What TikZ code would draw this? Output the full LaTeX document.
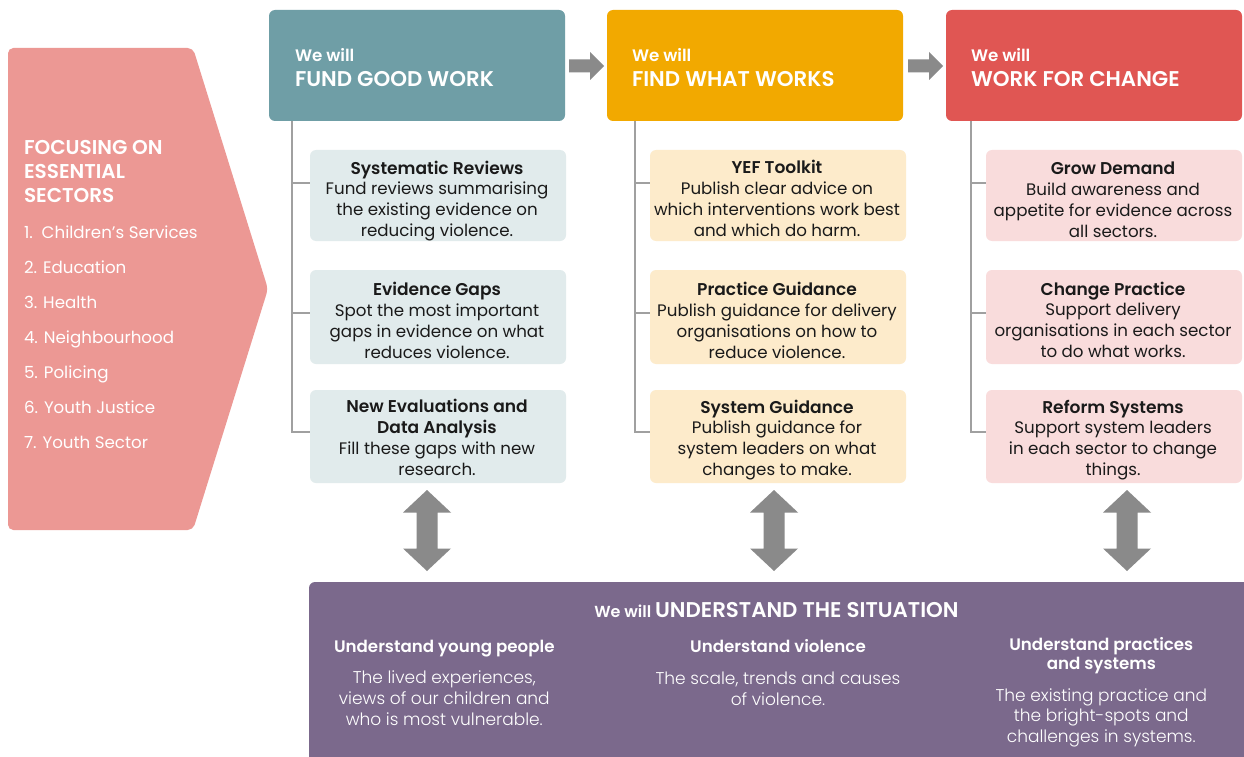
\documentclass[tikz,border=0pt]{standalone}
\usepackage{fontspec}
\setmainfont{Poppins}
\newfontfamily\popsb{Poppins SemiBold}
\newfontfamily\poplt{Poppins Light}
\newcommand\bxtitle{\popsb\fontsize{12.8}{15.6}\selectfont}
\definecolor{sectpink}{HTML}{EC9894}
\definecolor{hteal}{HTML}{6F9EA6}
\definecolor{horange}{HTML}{F2A900}
\definecolor{hred}{HTML}{E05653}
\definecolor{lteal}{HTML}{E1EBEC}
\definecolor{lorange}{HTML}{FDEBCB}
\definecolor{lred}{HTML}{F9DCDC}
\definecolor{purp}{HTML}{7B698C}
\definecolor{agray}{HTML}{8A8A8A}
\definecolor{tgray}{HTML}{A0A0A0}
\definecolor{txtdark}{HTML}{1A1A1A}
\begin{document}
\begin{tikzpicture}[x=0.75pt,y=-0.75pt,
  every node/.style={inner sep=0pt, outer sep=0pt},
  hdrbox/.style={rounded corners=4.5pt, minimum width=222pt, minimum height=83.25pt},
  subbox/.style={rounded corners=4.5pt, minimum width=192pt},
  tree/.style={draw=tgray, line width=1.1pt},
  hwe/.style={anchor=base west, text=white, font=\popsb\fontsize{12.5}{15}\selectfont},
  hti/.style={anchor=base west, text=white, font=\popsb\fontsize{16}{20}\selectfont},
  btxt/.style={anchor=base, align=center, text=txtdark, font=\fontsize{12.5}{15.6}\selectfont},
  utitle/.style={anchor=base, align=center, text=white, font=\popsb\fontsize{12.5}{12.2}\selectfont},
  ubody/.style={anchor=base, align=center, text=white, font=\poplt\fontsize{12.75}{15.4}\selectfont},
  harrow/.pic={\fill[agray] (0,-6.5) -- (21,-6.5) -- (21,-14) -- (35,0) -- (21,14) -- (21,6.5) -- (0,6.5) -- cycle;},
  varrow/.pic={\fill[agray] (0,-40.5) -- (24,-18) -- (10.5,-18) -- (10.5,18) -- (24,18) -- (0,40.5) -- (-24,18) -- (-10.5,18) -- (-10.5,-18) -- (-24,-18) -- cycle;}
]
\useasboundingbox (0,0) rectangle (1244,756);
\fill[white] (0,0) rectangle (1244,756);

% left panel
\fill[sectpink, rounded corners=4pt] (8,48) -- (193,48) -- (268,289) -- (193,530) -- (8,530) -- cycle;
\node[anchor=base west, align=left, text=white, font=\popsb\fontsize{15}{18}\selectfont] (sechead) at (24,202) {FOCUSING ON\\ESSENTIAL\\SECTORS};
\node[anchor=base west, align=left, text=white, font=\fontsize{12.5}{26.25}\selectfont] (seclist) at (24,448)
  {1.\ \ Children’s Services\\2. Education\\3. Health\\4. Neighbourhood\\5. Policing\\6. Youth Justice\\7. Youth Sector};

% headers
\node[hdrbox, fill=hteal] (h1) at (417,65.5) {};
\node[hdrbox, fill=horange] (h2) at (755,65.5) {};
\node[hdrbox, fill=hred] (h3) at (1094,65.5) {};
\node[hwe] (h1a) at (295,62) {We will};
\node[hti] (h1b) at (295,87) {FUND GOOD WORK};
\node[hwe] (h2a) at (632,62) {We will};
\node[hti] (h2b) at (632,87) {FIND WHAT WORKS};
\node[hwe] (h3a) at (971,62) {We will};
\node[hti] (h3b) at (971,87) {WORK FOR CHANGE};

\pic at (569,66) {harrow};
\pic at (908,66) {harrow};

% sub boxes
\foreach \c/\x/\col in {1/438/lteal, 2/778/lorange, 3/1114/lred}{
  \node[subbox, fill=\col, minimum height=68.25pt] (b\c1) at (\x,195.5) {};
  \node[subbox, fill=\col, minimum height=70.5pt] (b\c2) at (\x,317) {};
  \node[subbox, fill=\col, minimum height=69.75pt] (b\c3) at (\x,436.5) {};
}

% tree lines
\coordinate (t1) at (292,121);
\coordinate (t2) at (635,121);
\coordinate (t3) at (971,121);
\draw[tree] (t1) |- (b13.west |- 0,432);
\draw[tree] (t1 |- 0,183) -- (b11.west |- 0,183);
\draw[tree] (t1 |- 0,313) -- (b12.west |- 0,313);
\draw[tree] (t2) |- (b23.west |- 0,432);
\draw[tree] (t2 |- 0,183) -- (b21.west |- 0,183);
\draw[tree] (t2 |- 0,313) -- (b22.west |- 0,313);
\draw[tree] (t3) |- (b33.west |- 0,432);
\draw[tree] (t3 |- 0,183) -- (b31.west |- 0,183);
\draw[tree] (t3 |- 0,313) -- (b32.west |- 0,313);

% box texts (anchor = baseline of last line)
\node[btxt] (x11) at (437,236.5) {{\bxtitle Systematic Reviews}\\Fund reviews summarising\\the existing evidence on\\reducing violence.};
\node[btxt] (x12) at (437,358) {{\bxtitle Evidence Gaps}\\Spot the most important\\gaps in evidence on what\\reduces violence.};
\node[btxt] (x13) at (437,475) {{\bxtitle New Evaluations and}\\{\bxtitle Data Analysis}\\Fill these gaps with new\\research.};
\node[btxt] (x21) at (777,236) {{\bxtitle YEF Toolkit}\\Publish clear advice on\\which interventions work best\\and which do harm.};
\node[btxt] (x22) at (777,358) {{\bxtitle Practice Guidance}\\Publish guidance for delivery\\organisations on how to\\reduce violence.};
\node[btxt] (x23) at (777,475.5) {{\bxtitle System Guidance}\\Publish guidance for\\system leaders on what\\changes to make.};
\node[btxt] (x31) at (1113,237) {{\bxtitle Grow Demand}\\Build awareness and\\appetite for evidence across\\all sectors.};
\node[btxt] (x32) at (1113,357.5) {{\bxtitle Change Practice}\\Support delivery\\organisations in each sector\\to do what works.};
\node[btxt] (x33) at (1113,475.5) {{\bxtitle Reform Systems}\\Support system leaders\\in each sector to change\\things.};

% vertical arrows
\pic at (427,530.5) {varrow};
\pic at (774,530.5) {varrow};
\pic at (1127,530.5) {varrow};

% bottom panel
\node[fill=purp, rounded corners=4.5pt, anchor=north west, minimum width=705.75pt, minimum height=142.5pt] (u) at (309,582) {};
\node[anchor=base, text=white, font=\popsb] (uh) at (776.5,617) {\fontsize{12}{14}\selectfont We will \fontsize{16}{18}\selectfont UNDERSTAND THE SITUATION};
\node[utitle] (ut1) at (444.3,652.7) {Understand young people};
\node[ubody] (ub1) at (444.3,725) {The lived experiences,\\views of our children and\\who is most vulnerable.};
\node[utitle] (ut2) at (778,652.7) {Understand violence};
\node[ubody] (ub2) at (778,705) {The scale, trends and causes\\of violence.};
\node[utitle] (ut3) at (1101.3,669) {Understand practices\\and systems};
\node[ubody] (ub3) at (1101.3,742.3) {The existing practice and\\the bright-spots and\\challenges in systems.};
\end{tikzpicture}
\end{document}
